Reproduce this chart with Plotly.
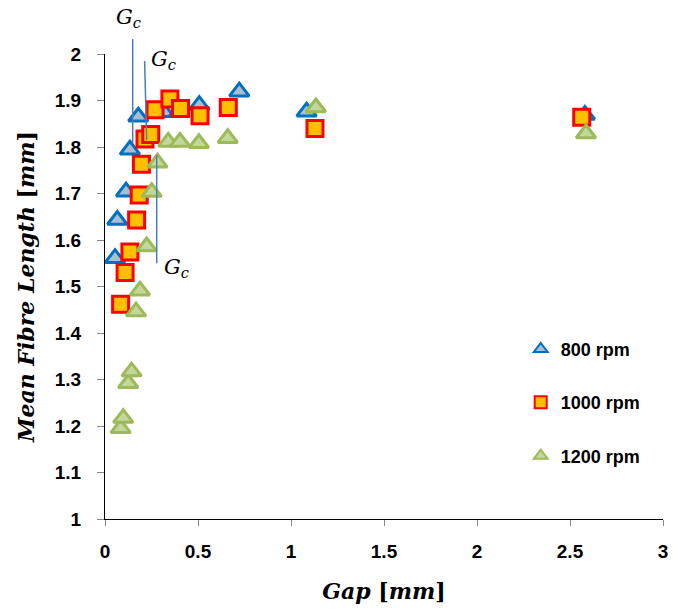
import plotly.graph_objects as go

# ---- data ----
gap_800 = [0.054, 0.066, 0.113, 0.134, 0.179, 0.317, 0.398, 0.507, 0.722, 1.084, 2.58]
mfl_800 = [1.561, 1.643, 1.704, 1.794, 1.865, 1.875, 1.875, 1.890, 1.919, 1.876, 1.869]

gap_1000 = [0.084, 0.108, 0.134, 0.170, 0.184, 0.196, 0.215, 0.246, 0.269, 0.349, 0.406, 0.511, 0.663, 1.129, 2.563]
mfl_1000 = [1.462, 1.530, 1.574, 1.643, 1.697, 1.763, 1.817, 1.827, 1.880, 1.903, 1.883, 1.867, 1.885, 1.840, 1.864]

gap_1200 = [0.084, 0.098, 0.125, 0.143, 0.167, 0.188, 0.224, 0.251, 0.282, 0.340, 0.403, 0.505, 0.660, 1.134, 2.586]
mfl_1200 = [1.195, 1.217, 1.292, 1.317, 1.446, 1.491, 1.586, 1.703, 1.766, 1.811, 1.811, 1.808, 1.819, 1.885, 1.829]

series_names = ["800 rpm", "1000 rpm", "1200 rpm"]

# critical-gap marker lines (x0, y0, x1, y1) and label positions
gc_lines = [(0.149, 2.032, 0.149, 1.808), (0.213, 1.985, 0.224, 1.815), (0.278, 1.783, 0.278, 1.550)]
gc_labels = [(0.125, 2.077), (0.312, 1.987), (0.387, 1.54)]

x_range = [0, 3]
y_range = [1, 2]
x_ticks = [0, 0.5, 1, 1.5, 2, 2.5, 3]
x_ticklabels = ["0", "0.5", "1", "1.5", "2", "2.5", "3"]
y_ticks = [1, 1.1, 1.2, 1.3, 1.4, 1.5, 1.6, 1.7, 1.8, 1.9, 2]
y_ticklabels = ["1", "1.1", "1.2", "1.3", "1.4", "1.5", "1.6", "1.7", "1.8", "1.9", "2"]

fig = go.Figure()
fig.add_trace(go.Scatter(x=gap_800, y=mfl_800, mode="markers", name="<b>" + series_names[0] + "</b>", legendgroup="a",
                         marker=dict(symbol="triangle-up", size=17, color="#A7BED3",
                                     line=dict(color="#0070C0", width=3))))
fig.add_trace(go.Scatter(x=gap_1000, y=mfl_1000, mode="markers", name="<b>" + series_names[1] + "</b>", legendgroup="b",
                         marker=dict(symbol="square", size=16, color="#FFC000",
                                     line=dict(color="#FF0000", width=3))))
fig.add_trace(go.Scatter(x=gap_1200, y=mfl_1200, mode="markers", name="<b>" + series_names[2] + "</b>", legendgroup="c",
                         marker=dict(symbol="triangle-up", size=17, color="#C3D69B",
                                     line=dict(color="#9BBB59", width=3))))

def px(v):
    return (v - x_range[0]) / (x_range[1] - x_range[0])

def py(v):
    return (v - y_range[0]) / (y_range[1] - y_range[0])

shapes = []
for (x0, y0, x1, y1) in gc_lines:
    shapes.append(dict(type="line", xref="paper", yref="paper", x0=px(x0), y0=py(y0), x1=px(x1), y1=py(y1),
                       line=dict(color="#4A7EBB", width=1.5), layer="above"))

annotations = []
for (lx, ly) in gc_labels:
    annotations.append(dict(x=px(lx), y=py(ly), xref="paper", yref="paper", showarrow=False,
                            xanchor="center", yanchor="middle",
                            text="<i>G</i><sub><i>c</i></sub>",
                            font=dict(family="DejaVu Serif", size=21, color="#000")))

fig.update_layout(
    width=673, height=613,
    margin=dict(l=105, r=10, t=54, b=94),
    paper_bgcolor="white", plot_bgcolor="white",
    shapes=shapes, annotations=annotations,
    showlegend=True,
    legend=dict(x=0.745, y=0.405, xanchor="left", yanchor="top", bgcolor="rgba(0,0,0,0)",
                font=dict(family="Liberation Sans", size=18, color="#000"),
                itemsizing="constant", tracegroupgap=27, traceorder="grouped"),
    xaxis=dict(range=x_range, tickmode="array", tickvals=x_ticks, ticktext=[f"<b>{t}</b>" for t in x_ticklabels],
               showgrid=False, zeroline=False, showline=True, linecolor="#000", linewidth=1,
               ticks="outside", ticklen=6, tickcolor="#888", ticklabelstandoff=9, automargin=False,
               tickfont=dict(family="Liberation Sans", size=19, color="#000"),
               title=dict(text="<b><i>Gap</i> [<i>mm</i>]</b>", standoff=22,
                          font=dict(family="DejaVu Serif", size=22, color="#000"))),
    yaxis=dict(range=y_range, tickmode="array", tickvals=y_ticks, ticktext=[f"<b>{t}</b>" for t in y_ticklabels],
               showgrid=False, zeroline=False, showline=True, linecolor="#000", linewidth=1,
               ticks="outside", ticklen=7, tickcolor="#888", ticklabelstandoff=12, automargin=False,
               tickfont=dict(family="Liberation Sans", size=19, color="#000"),
               title=dict(text="<b><i>Mean Fibre Length</i> [<i>mm</i>]</b>", standoff=14,
                          font=dict(family="DejaVu Serif", size=22, color="#000"))),
)

fig.write_html("out.html")
